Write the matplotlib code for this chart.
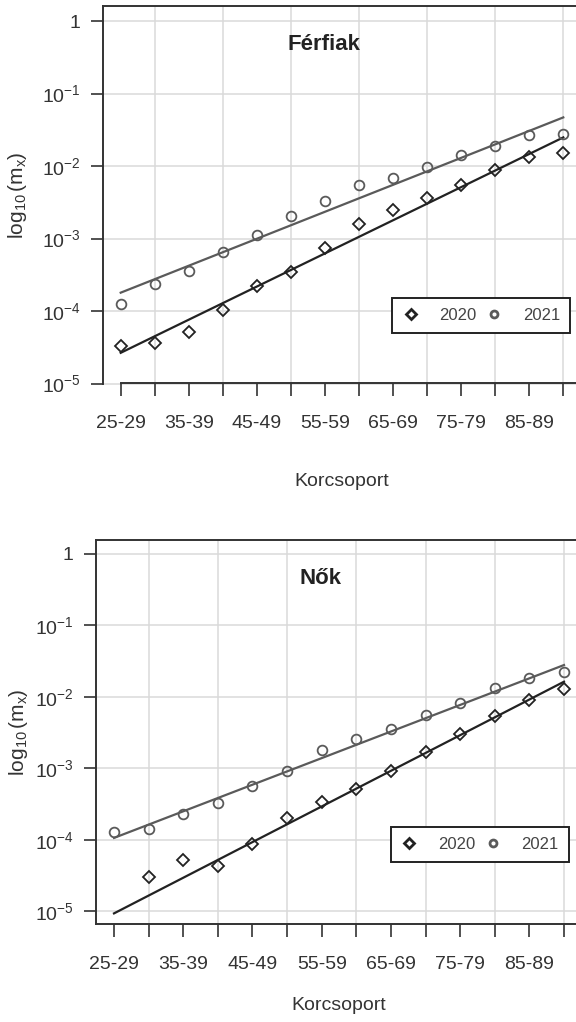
import numpy as np
import matplotlib
matplotlib.use("Agg")
import matplotlib.pyplot as plt
from matplotlib.lines import Line2D

# ── Stílus ────────────────────────────────────────────────
plt.rcParams.update({
    "font.family":         ["Liberation Sans", "DejaVu Sans"],
    "mathtext.fontset":    "custom",
    "mathtext.rm":         "Liberation Sans",
    "mathtext.it":         "Liberation Sans",
    "font.size":           14,
    "text.color":          "#333333",
    "axes.labelcolor":     "#333333",
    "xtick.color":         "#333333",
    "ytick.color":         "#333333",
    "axes.edgecolor":      "#333333",
})

COL_2020 = "#222222"
COL_2021 = "#5a5a5a"
GRID_COL = "#dadada"

# ── Adatok ────────────────────────────────────────────────
age_groups = ["25-29", "30-34", "35-39", "40-44", "45-49", "50-54", "55-59",
              "60-64", "65-69", "70-74", "75-79", "80-84", "85-89", "90-94"]

ferfi_2020 = [3.3e-5, 3.65e-5, 5.1e-5, 1.02e-4, 2.2e-4, 3.4e-4, 7.3e-4,
              1.56e-3, 2.5e-3, 3.6e-3, 5.55e-3, 8.9e-3, 1.31e-2, 1.49e-2]
ferfi_2021 = [1.23e-4, 2.35e-4, 3.55e-4, 6.5e-4, 1.13e-3, 2.05e-3, 3.3e-3,
              5.4e-3, 6.9e-3, 9.7e-3, 1.44e-2, 1.9e-2, 2.65e-2, 2.75e-2]
ferfi_fit_2020 = [2.65e-5, 2.48e-2]     # illesztett egyenes: 25-29 és 90-94
ferfi_fit_2021 = [1.79e-4, 4.68e-2]

no_2020 = [np.nan, 3.0e-5, 5.2e-5, 4.3e-5, 8.7e-5, 2.03e-4, 3.4e-4,
           5.1e-4, 9.2e-4, 1.67e-3, 3.0e-3, 5.4e-3, 9.0e-3, 1.27e-2]
no_2021 = [1.29e-4, 1.39e-4, 2.28e-4, 3.3e-4, 5.7e-4, 9.2e-4, 1.8e-3,
           2.6e-3, 3.55e-3, 5.55e-3, 8.1e-3, 1.31e-2, 1.85e-2, 2.25e-2]
no_fit_2020 = [9.3e-6, 1.63e-2]
no_fit_2021 = [1.06e-4, 2.79e-2]

y_ticks = [1e-5, 1e-4, 1e-3, 1e-2, 1e-1, 1]
y_ticklabels = [r"$10^{-5}$", r"$10^{-4}$", r"$10^{-3}$", r"$10^{-2}$",
                r"$10^{-1}$", "1"]

W, H = 576, 1022


def px_axes(fig, left, top, right, bottom):
    return fig.add_axes([left / W, 1 - bottom / H,
                         (right - left) / W, (bottom - top) / H])


def panel(ax, title, v2020, v2021, fit2020, fit2021, ylim, leg_xy,
          label_x, ylab_x, full_bottom):
    x = np.arange(len(age_groups))
    fit_x = [x[0], x[-1]]

    ax.set_yscale("log")
    ax.set_xlim(-0.52, len(age_groups) - 0.48)
    ax.set_ylim(*ylim)

    # rács
    for yt in y_ticks:
        ax.axhline(yt, color=GRID_COL, lw=1.1, zorder=0, clip_on=False)
    for xg in x[1::2]:
        ax.axvline(xg, color=GRID_COL, lw=1.1, zorder=0)

    ax.plot(fit_x, fit2021, color=COL_2021, lw=1.6, zorder=2)
    ax.plot(fit_x, fit2020, color=COL_2020, lw=1.6, zorder=2)
    ax.plot(x, v2021, "o", ms=7, mfc="none", mec=COL_2021, mew=1.3, zorder=3)
    ax.plot(x, v2020, "D", ms=6, mfc="none", mec=COL_2020, mew=1.3, zorder=3)

    ax.set_yticks(y_ticks)
    ax.set_yticklabels(y_ticklabels)
    ax.minorticks_off()
    ax.set_xticks(x)
    ax.set_xticklabels([g if i % 2 == 0 else "" for i, g in enumerate(age_groups)])
    ax.tick_params(axis="both", length=9, width=1.2, direction="out")
    ax.tick_params(axis="y", pad=7)
    ax.tick_params(axis="x", pad=14)

    for s in ["left", "top", "bottom"]:
        ax.spines[s].set_linewidth(1.4)
    ax.spines["right"].set_visible(False)
    if not full_bottom:
        ax.spines["bottom"].set_bounds(0, len(age_groups))

    ax.text(0.462, 0.90, title, transform=ax.transAxes, ha="center",
            va="center", fontsize=16, fontweight="bold", color="#222222")

    ax.set_xlabel("Korcsoport")
    ax.xaxis.label.set_va("center")
    ax.xaxis.set_label_coords(0.5, label_x)
    ax.set_ylabel(r"$\log_{10}(m_x)$", fontsize=15)
    ax.yaxis.label.set_va("center")
    ax.yaxis.set_label_coords(ylab_x, 0.5)

    handles = [
        Line2D([], [], ls="none", marker="D", ms=5, mfc="none", mec=COL_2020, mew=2.0),
        Line2D([], [], ls="none", marker="o", ms=5, mfc="none", mec=COL_2021, mew=2.0),
    ]
    leg = ax.legend(handles, ["2020", "2021"], ncol=2, loc="upper left",
                    bbox_to_anchor=leg_xy, borderaxespad=0, fontsize=12,
                    handlelength=1.0, handletextpad=1.2, columnspacing=0.6,
                    borderpad=0.6, fancybox=False, framealpha=1)
    leg.get_frame().set_edgecolor("#222222")
    leg.get_frame().set_linewidth(1.4)
    for t in leg.get_texts():
        t.set_color("#444444")


def main():
    fig = plt.figure(figsize=(W / 100, H / 100), dpi=100)

    ax1 = px_axes(fig, 103, 6.5, 581, 383.5)
    panel(ax1, "Férfiak", ferfi_2020, ferfi_2021, ferfi_fit_2020, ferfi_fit_2021,
          (1e-5, 10 ** 0.2), (0.605, 0.226), -0.26, -0.178, False)

    ax2 = px_axes(fig, 96, 540, 582, 924)
    panel(ax2, "Nők", no_2020, no_2021, no_fit_2020, no_fit_2021,
          (10 ** -5.18, 10 ** 0.196), (0.607, 0.253), -0.211, -0.16, True)

    fig.savefig("out.png", dpi=100, facecolor="white")
    plt.close(fig)


if __name__ == "__main__":
    main()
